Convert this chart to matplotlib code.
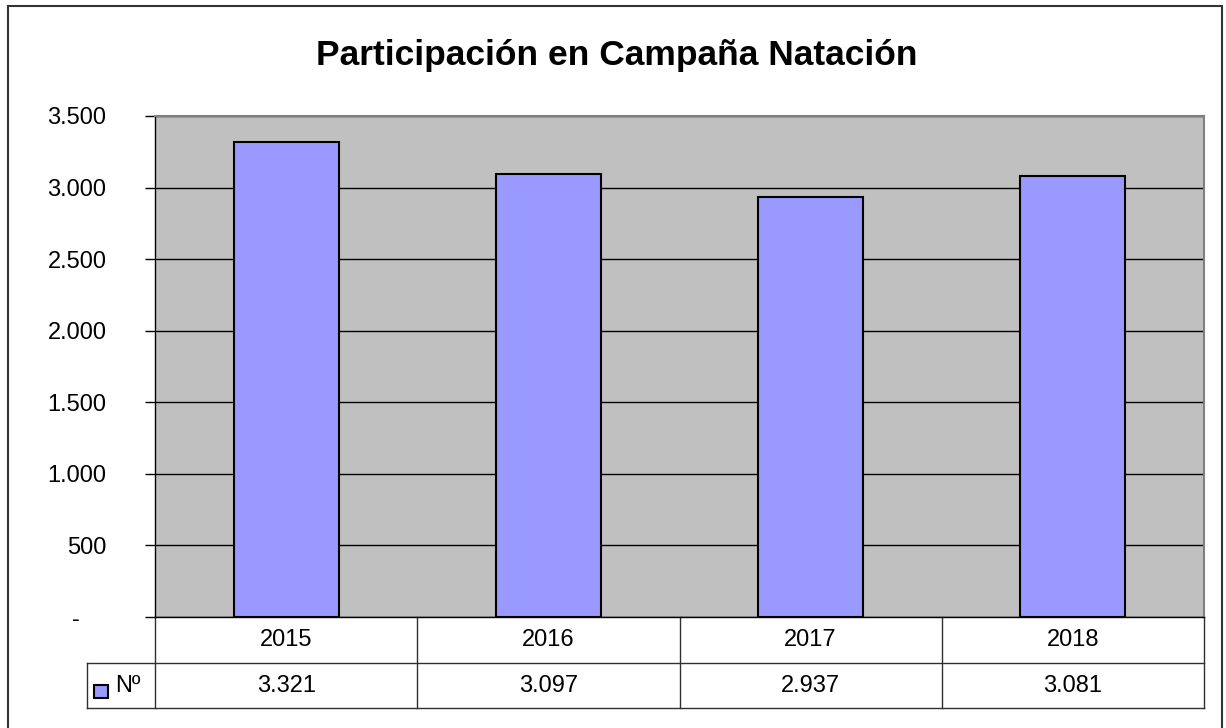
import matplotlib
matplotlib.use("Agg")
import matplotlib.pyplot as plt
from matplotlib.patches import Rectangle
from matplotlib.lines import Line2D
import matplotlib.transforms as mtransforms

plt.rcParams['font.family'] = ['Liberation Sans', 'DejaVu Sans']

title = "Participación en Campaña Natación"
categories = ["2015", "2016", "2017", "2018"]
values = [3321, 3097, 2937, 3081]
series_name = "Nº"
yticks = [0, 500, 1000, 1500, 2000, 2500, 3000, 3500]

W, H = 1226, 728
fig = plt.figure(figsize=(W / 100, H / 100), dpi=100)
fig.patch.set_facecolor("white")

def fx(px):
    return px / W

def fy(py):
    return 1 - py / H

FS = 17
L, R, T, B = 155, 1204, 116, 617
ax = fig.add_axes([fx(L), fy(B), fx(R - L), (B - T) / H])
ax.set_facecolor("#C0C0C0")

x = list(range(len(categories)))
ax.bar(x, values, width=0.4, color="#9999FF", edgecolor="black", linewidth=1.5, zorder=3)
ax.set_xlim(-0.5, len(categories) - 0.5)
ax.set_ylim(0, 3500)
ax.set_yticks(yticks)

def fmt(v):
    if v == 0:
        return "-    "
    return f"{v:,}".replace(",", ".")

ax.set_yticklabels([fmt(v) for v in yticks], fontsize=FS)
ax.tick_params(axis="y", direction="out", length=7, width=1, pad=28, colors="black")
ax.set_xticks([])
ax.grid(axis="y", color="black", linewidth=1, zorder=1)
ax.set_axisbelow(True)
for s in ["top", "right"]:
    ax.spines[s].set_color("#808080")
    ax.spines[s].set_linewidth(1.5)
ax.spines["left"].set_color("black")
ax.spines["left"].set_linewidth(1)
ax.spines["bottom"].set_color("black")
ax.spines["bottom"].set_linewidth(1)

# data table below the plot
row_h = 46 / (B - T)
tbl_bottom = -(708 - B) / (B - T)
leg_left = (87 - L) / (R - L)
ta = ax.transAxes
blend = mtransforms.blended_transform_factory(ax.transData, ax.transAxes)
lc = "#303030"
lw = 1
lines = [
    ((0, 1), (-row_h, -row_h)),
    ((leg_left, 0), (-row_h, -row_h)),
    ((leg_left, 1), (tbl_bottom, tbl_bottom)),
    ((leg_left, leg_left), (-row_h, tbl_bottom)),
    ((1, 1), (0, tbl_bottom)),
]
for xs, ys in lines:
    ax.add_line(Line2D(xs, ys, transform=ta, color=lc, linewidth=lw, clip_on=False))
for i in range(len(categories)):
    xb = i - 0.5
    ax.add_line(Line2D([xb, xb], [0, tbl_bottom], transform=blend, color=lc,
                       linewidth=lw, clip_on=False))
for i, (c, v) in enumerate(zip(categories, values)):
    ax.text(i, -row_h / 2, c, transform=blend, ha="center", va="center", fontsize=FS)
    ax.text(i, (-row_h + tbl_bottom) / 2, f"{v:,}".replace(",", "."), transform=blend,
            ha="center", va="center", fontsize=FS)

# legend key in table
fig.add_artist(Rectangle((fx(94), fy(698)), fx(14), 13 / H, facecolor="#9999FF",
                         edgecolor="black", linewidth=1.5, transform=fig.transFigure))
fig.text(fx(115), fy(686), series_name, ha="left", va="center", fontsize=FS)

# title
fig.text(fx(617), fy(56), title, ha="center", va="center", fontsize=25.5, fontweight="bold")

# outer frame
fig.add_artist(Rectangle((fx(8), fy(740)), fx(1222 - 8), (740 - 6) / H, fill=False,
                         edgecolor="#333333", linewidth=1.5, transform=fig.transFigure))

fig.savefig("out.png", dpi=100)
